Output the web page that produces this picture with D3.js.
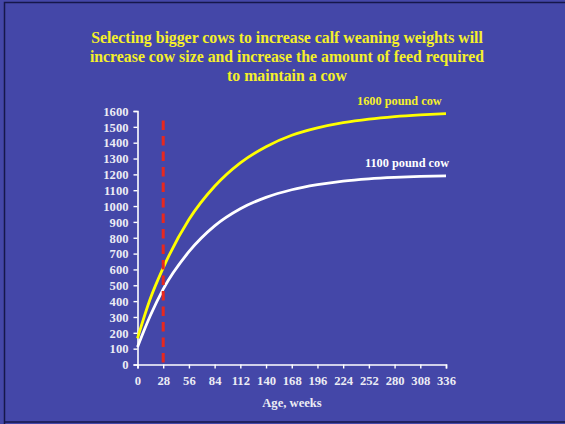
<!DOCTYPE html>
<html><head><meta charset="utf-8">
<script src="https://cdn.jsdelivr.net/npm/d3@7"></script>
<style>html,body{margin:0;padding:0;background:#4447A8;}svg{display:block;}</style>
</head><body>
<svg id="c" width="565" height="424"></svg>
<script>
const titleLines = ["Selecting bigger cows to increase calf weaning weights will",
  "increase cow size and increase the amount of feed required",
  "to maintain a cow"];
const weeks = [0, 14, 28, 56, 84, 112, 140, 168, 196, 224, 252, 280, 308, 336];
const cow1600 = [165, 416, 610, 915, 1125, 1273, 1375, 1447, 1493, 1526, 1549, 1565, 1576, 1584];
const cow1100 = [110, 309, 476, 712, 875, 983, 1055, 1103, 1135, 1158, 1172, 1181, 1187, 1190];
const seriesNames = ["1600 pound cow", "1100 pound cow"];
const xTicks = [0, 28, 56, 84, 112, 140, 168, 196, 224, 252, 280, 308, 336];
const yTicks = d3.range(0, 1601, 100);
const markerWeek = 28;
const markerTop = 1540;
const xTitle = "Age, weeks";

const svg = d3.select("#c");
svg.append("rect").attr("width",565).attr("height",424).attr("fill","#4447A8");
// slide frame
svg.append("path").attr("d","M4.5,424 V2.5 H565 M4.5,422 H565")
  .attr("fill","none").attr("stroke","#15174a").attr("stroke-width",1.5);

const serif = "'Liberation Serif','Times New Roman',serif";
svg.append("g").selectAll("text").data(titleLines).join("text")
  .attr("x",287).attr("y",(d,i)=>43+i*19.2)
  .attr("text-anchor","middle").attr("font-family",serif).attr("font-weight","bold")
  .attr("font-size","15.8px").attr("fill","#F5F02A").text(d=>d);

const x = d3.scaleLinear().domain([0,336]).range([137.5,446]);
const y = d3.scaleLinear().domain([0,1600]).range([364.5,111]);

const labelColor = "#ECECF4";
const gx = svg.append("g").attr("transform","translate(0,364.5)")
  .call(d3.axisBottom(x).tickValues(xTicks).tickSize(4).tickPadding(8).tickFormat(d3.format("d")));
const gy = svg.append("g").attr("transform","translate(137.5,0)")
  .call(d3.axisLeft(y).tickValues(yTicks).tickSize(4).tickPadding(5).tickFormat(d3.format("d")));
[gx,gy].forEach(g=>{
  g.select(".domain").attr("stroke","#ffffff").attr("stroke-width",1.6);
  g.selectAll(".tick line").attr("stroke","#ffffff").attr("stroke-width",1.4);
  g.selectAll(".tick text").attr("fill",labelColor).attr("font-family",serif)
   .attr("font-weight","bold").attr("font-size","12.6px");
});
gy.selectAll(".tick text").attr("dy","0.34em");
gx.selectAll(".tick text").attr("dy","0.71em");

svg.append("text").attr("x",292).attr("y",407).attr("text-anchor","middle")
  .attr("font-family",serif).attr("font-weight","bold").attr("font-size","12.6px")
  .attr("fill",labelColor).text(xTitle);

const line = d3.line().x((d,i)=>x(weeks[i])).y(d=>y(d)).curve(d3.curveMonotoneX);
svg.append("path").datum(cow1100).attr("d",line).attr("fill","none")
  .attr("stroke","#ffffff").attr("stroke-width",2.8);
svg.append("path").datum(cow1600).attr("d",line).attr("fill","none")
  .attr("stroke","#FFFF00").attr("stroke-width",2.8);

// red dashed marker (drawn on top of curves)
svg.append("line").attr("x1",x(markerWeek)).attr("x2",x(markerWeek))
  .attr("y1",y(markerTop)).attr("y2",y(0))
  .attr("stroke","#E8281E").attr("stroke-width",3).attr("stroke-dasharray","9.5,6");

svg.append("text").attr("x",357).attr("y",105).attr("font-family",serif).attr("font-weight","bold")
  .attr("font-size","12.3px").attr("fill","#F5F02A").text(seriesNames[0]);
svg.append("text").attr("x",365).attr("y",166.5).attr("font-family",serif).attr("font-weight","bold")
  .attr("font-size","12.3px").attr("fill","#ffffff").text(seriesNames[1]);
</script>
</body></html>
